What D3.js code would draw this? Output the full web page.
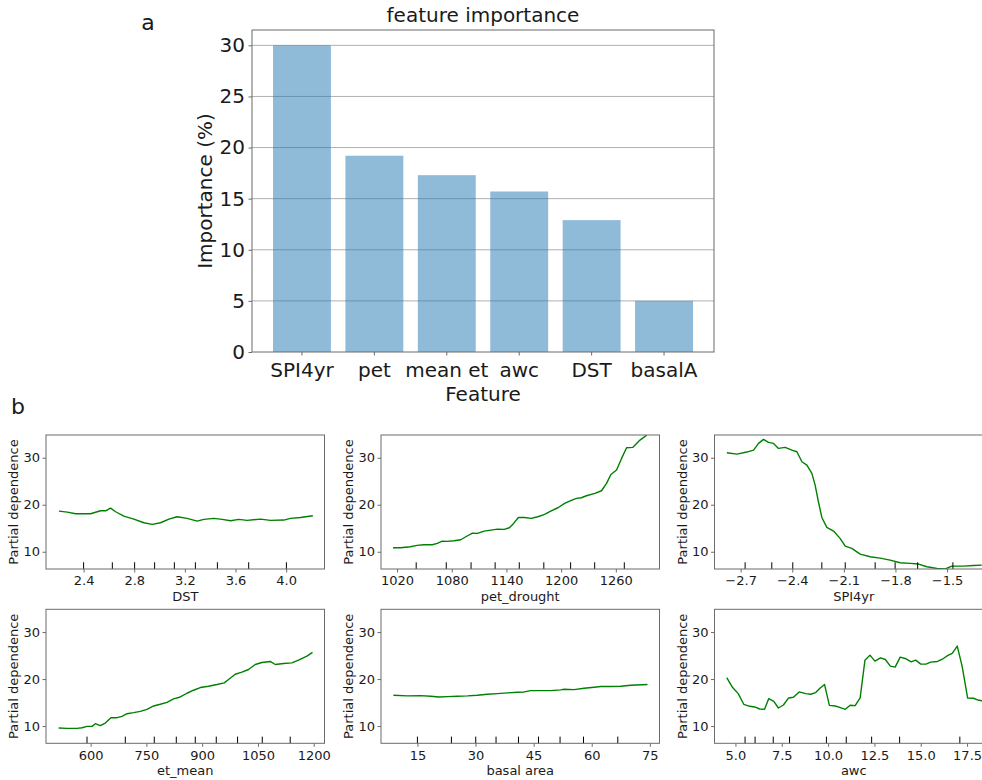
<!DOCTYPE html>
<html>
<head>
<meta charset="utf-8">
<script src="https://cdn.jsdelivr.net/npm/d3@7"></script>
<style>
  body { margin: 0; background: #fff; }
  svg { display: block; font-family: "DejaVu Sans", sans-serif; }
</style>
</head>
<body>
<svg id="fig" width="982" height="780"></svg>
<script>
// ---------- (a) feature importance ----------
const features = ["SPI4yr", "pet", "mean et", "awc", "DST", "basalA"];
const importance = [30.0, 19.2, 17.3, 15.7, 12.9, 5.0];
const importanceTicks = [0, 5, 10, 15, 20, 25, 30];

// ---------- (b) partial dependence ----------
const pdRange = [6.33, 34.84];
const pdTicks = [10, 20, 30];

const dstX = [2.205,2.271,2.337,2.403,2.455,2.534,2.574,2.613,2.653,2.718,2.797,2.876,2.942,3.008,3.074,3.139,3.218,3.297,3.350,3.429,3.495,3.561,3.626,3.692,3.797,3.876,3.982,4.034,4.113,4.211];
const dstY = [18.65,18.44,18.09,18.09,18.09,18.72,18.72,19.29,18.51,17.59,16.95,16.17,15.82,16.17,16.95,17.45,17.09,16.52,16.88,17.09,16.88,16.60,16.88,16.67,16.95,16.67,16.74,17.09,17.30,17.66];
const dstDeciles = [2.400,2.627,2.803,2.961,3.117,3.283,3.457,3.704,4.002];
const dstTicks = [2.4, 2.8, 3.2, 3.6, 4.0];
const dstLim = [2.103, 4.303];

const petX = [1015.6,1023.7,1034.7,1042.1,1049.4,1058.6,1064.1,1069.6,1075.1,1082.5,1089.9,1095.4,1102.7,1108.2,1115.6,1122.9,1130.3,1137.6,1143.2,1147.9,1153.1,1159.7,1167.0,1174.4,1181.8,1189.1,1196.5,1203.8,1211.2,1216.7,1222.2,1227.8,1237.0,1244.3,1249.8,1254.6,1260.8,1266.3,1271.8,1278.5,1286.5,1293.9];
const petY = [10.85,10.85,11.06,11.35,11.49,11.49,11.77,12.27,12.20,12.34,12.55,13.19,13.97,13.90,14.40,14.61,14.82,14.75,15.11,16.03,17.30,17.30,17.09,17.45,17.94,18.72,19.36,20.28,20.92,21.35,21.49,21.91,22.41,22.98,24.54,26.45,27.38,29.86,32.13,32.20,33.76,34.80];
const petDeciles = [1041.0,1074.0,1101.2,1127.6,1154.1,1181.0,1210.4,1236.8,1269.3];
const petTicks = [1020, 1080, 1140, 1200, 1260];
const petLim = [1002.4, 1307.9];

const spiX = [-2.780,-2.722,-2.664,-2.625,-2.596,-2.567,-2.538,-2.509,-2.480,-2.441,-2.402,-2.373,-2.344,-2.315,-2.286,-2.267,-2.248,-2.228,-2.199,-2.160,-2.122,-2.092,-2.054,-2.005,-1.947,-1.889,-1.831,-1.773,-1.715,-1.666,-1.617,-1.559,-1.511,-1.472,-1.405,-1.346,-1.298];
const spiY = [31.06,30.78,31.21,31.63,33.05,33.90,33.26,33.05,31.99,32.20,31.63,31.28,29.15,28.44,26.67,24.18,20.64,17.30,15.18,14.40,12.84,11.21,10.71,9.50,8.94,8.65,8.23,7.66,7.52,7.38,6.81,6.45,6.35,6.95,6.95,7.09,7.16];
const spiDeciles = [-2.674,-2.519,-2.397,-2.228,-2.092,-1.918,-1.802,-1.671,-1.466];
const spiTicks = [-2.7, -2.4, -2.1, -1.8, -1.5];
const spiLim = [-2.852, -1.233];

const etX = [514.0,536.6,563.4,576.9,590.3,603.8,612.6,626.1,639.5,654.8,670.9,684.4,697.8,715.6,733.6,751.6,769.4,787.4,805.4,823.1,841.1,859.1,876.9,894.9,917.2,939.8,959.4,971.0,988.9,1007.0,1024.7,1042.7,1060.7,1083.1,1096.5,1118.8,1141.4,1159.1,1181.7,1196.8];
const etY = [9.57,9.50,9.50,9.64,9.93,9.93,10.50,10.07,10.64,11.78,11.78,12.06,12.63,12.85,13.13,13.56,14.27,14.63,15.05,15.77,16.19,16.98,17.62,18.19,18.47,18.83,19.18,19.89,21.03,21.46,22.03,23.10,23.52,23.74,23.10,23.31,23.45,24.02,24.88,25.66];
const etDeciles = [590.3,693.3,771.2,830.4,881.5,937.9,995.2,1061.6,1136.8];
const etTicks = [600, 750, 900, 1050, 1200];
const etLim = [480, 1229];

const basalX = [8.80,12.42,15.85,18.43,20.58,22.75,25.33,27.91,30.50,33.08,35.66,38.24,40.83,42.54,44.26,46.84,49.43,52.01,52.87,55.45,58.03,60.61,62.34,64.92,67.51,70.09,74.40];
const basalY = [16.55,16.41,16.48,16.33,16.19,16.26,16.33,16.41,16.55,16.76,16.90,17.05,17.19,17.26,17.54,17.54,17.54,17.69,17.83,17.76,18.04,18.26,18.40,18.40,18.47,18.68,18.83];
const basalDeciles = [15.0,23.78,30.06,35.30,41.09,46.26,51.83,57.88,66.73];
const basalTicks = [15, 30, 45, 60, 75];
const basalLim = [5.6, 77.5];

const awcX = [4.53,4.85,5.15,5.45,5.77,6.04,6.31,6.57,6.80,7.07,7.32,7.59,7.87,8.13,8.44,8.80,9.06,9.33,9.56,9.81,10.07,10.39,10.66,10.93,11.19,11.46,11.73,11.99,12.26,12.53,12.83,13.09,13.36,13.62,13.89,14.16,14.48,14.73,15.00,15.28,15.54,15.90,16.20,16.47,16.70,16.97,17.23,17.53,17.85,18.13,18.45];
const awcY = [20.32,18.19,16.90,14.63,14.20,14.06,13.63,13.56,15.84,15.27,13.84,14.48,15.98,16.12,17.26,16.90,16.76,17.12,18.04,18.83,14.41,14.27,13.91,13.56,14.41,14.34,15.98,24.02,25.09,23.81,24.52,24.16,22.74,22.53,24.66,24.38,23.67,24.02,23.17,23.17,23.59,23.74,24.31,25.02,25.44,27.01,22.81,15.98,15.91,15.48,15.30];
const awcDeciles = [5.52,6.06,7.04,7.92,9.91,10.98,12.35,13.86,17.11];
const awcTicks = [5.0, 7.5, 10.0, 12.5, 15.0, 17.5];
const awcLim = [3.87, 18.9];

// ---------- drawing ----------
const svg = d3.select("#fig");
const ink = "#1a1a1a";
const spine = "#6b6b6b";

// panel letters
svg.append("text").attr("x", 148).attr("y", 30).attr("text-anchor", "middle")
  .attr("font-size", 22).attr("fill", ink).text("a");
svg.append("text").attr("x", 18).attr("y", 414).attr("text-anchor", "middle")
  .attr("font-size", 22).attr("fill", ink).text("b");

// bar chart
{
  const L = 252, R = 714, T = 30, B = 352;
  const x = d3.scaleBand().domain(features).range([L, R]).paddingInner(0.2).paddingOuter(0.29);
  const y = d3.scaleLinear().domain([0, d3.max(importance) * 1.05]).range([B, T]);
  const g = svg.append("g");

  g.selectAll("line.grid").data(importanceTicks.filter(d => d > 0)).join("line")
    .attr("class", "grid")
    .attr("x1", L).attr("x2", R)
    .attr("y1", d => y(d)).attr("y2", d => y(d))
    .attr("stroke", "#b0b0b0").attr("stroke-width", 1);

  g.selectAll("rect.bar").data(d3.zip(features, importance)).join("rect")
    .attr("class", "bar")
    .attr("x", d => x(d[0])).attr("width", x.bandwidth())
    .attr("y", d => y(d[1])).attr("height", d => B - y(d[1]))
    .attr("fill", "#1f77b4").attr("fill-opacity", 0.5);

  g.append("rect").attr("x", L).attr("y", T).attr("width", R - L).attr("height", B - T)
    .attr("fill", "none").attr("stroke", spine).attr("stroke-width", 1);

  const ya = g.append("g").attr("transform", `translate(${L},0)`)
    .call(d3.axisLeft(y).tickValues(importanceTicks).tickSize(3.5).tickPadding(3.5));
  const xa = g.append("g").attr("transform", `translate(0,${B})`)
    .call(d3.axisBottom(x).tickSize(3.5).tickPadding(7));
  [ya, xa].forEach(a => {
    a.select(".domain").remove();
    a.selectAll("line").attr("stroke", spine);
    a.selectAll("text").attr("font-size", 20).attr("fill", ink).attr("font-family", "DejaVu Sans, sans-serif");
  });

  g.append("text").attr("x", (L + R) / 2).attr("y", 22).attr("text-anchor", "middle")
    .attr("font-size", 20).attr("fill", ink).text("feature importance");
  g.append("text").attr("x", (L + R) / 2).attr("y", 401).attr("text-anchor", "middle")
    .attr("font-size", 20).attr("fill", ink).text("Feature");
  g.append("text").attr("transform", `translate(212,${(T + B) / 2}) rotate(-90)`)
    .attr("text-anchor", "middle").attr("font-size", 20).attr("fill", ink).text("Importance (%)");
}

// partial dependence grid
const panels = [
  { xs: dstX, ys: dstY, dec: dstDeciles, ticks: dstTicks, lim: dstLim, fmt: ".1f", label: "DST" },
  { xs: petX, ys: petY, dec: petDeciles, ticks: petTicks, lim: petLim, fmt: "d", label: "pet_drought" },
  { xs: spiX, ys: spiY, dec: spiDeciles, ticks: spiTicks, lim: spiLim, fmt: ".1f", label: "SPI4yr" },
  { xs: etX, ys: etY, dec: etDeciles, ticks: etTicks, lim: etLim, fmt: "d", label: "et_mean" },
  { xs: basalX, ys: basalY, dec: basalDeciles, ticks: basalTicks, lim: basalLim, fmt: "d", label: "basal area" },
  { xs: awcX, ys: awcY, dec: awcDeciles, ticks: awcTicks, lim: awcLim, fmt: ".1f", label: "awc" }
];

const colLeft = [46, 381, 714.5];
const rowTop = [435, 609.3];
const PW = 278.5, PH = 134;

panels.forEach((p, i) => {
  const L = colLeft[i % 3], T = rowTop[Math.floor(i / 3)];
  const B = T + PH, R = L + PW;
  const x = d3.scaleLinear().domain(p.lim).range([L, R]);
  const y = d3.scaleLinear().domain(pdRange).range([B, T]);
  const g = svg.append("g");

  const clipId = "clip" + i;
  g.append("clipPath").attr("id", clipId).append("rect")
    .attr("x", L).attr("y", T).attr("width", PW).attr("height", PH);

  const pts = d3.zip(p.xs, p.ys);
  g.append("path").datum(pts)
    .attr("clip-path", `url(#${clipId})`)
    .attr("d", d3.line().x(d => x(d[0])).y(d => y(d[1])))
    .attr("fill", "none").attr("stroke", "#008000").attr("stroke-width", 1.4)
    .attr("stroke-linejoin", "round");

  // decile markers along the bottom
  g.selectAll("line.dec").data(p.dec).join("line")
    .attr("class", "dec")
    .attr("x1", d => x(d)).attr("x2", d => x(d))
    .attr("y1", B).attr("y2", B - 0.05 * PH)
    .attr("stroke", "#000").attr("stroke-width", 1);

  g.append("rect").attr("x", L).attr("y", T).attr("width", PW).attr("height", PH)
    .attr("fill", "none").attr("stroke", spine).attr("stroke-width", 1);

  const xa = g.append("g").attr("transform", `translate(0,${B})`)
    .call(d3.axisBottom(x).tickValues(p.ticks).tickFormat(d3.format(p.fmt)).tickSize(3.5).tickPadding(3.5));
  const ya = g.append("g").attr("transform", `translate(${L},0)`)
    .call(d3.axisLeft(y).tickValues(pdTicks).tickFormat(d3.format("d")).tickSize(3.5).tickPadding(2.5));
  [xa, ya].forEach(a => {
    a.select(".domain").remove();
    a.selectAll("line").attr("stroke", spine);
    a.selectAll("text").attr("font-size", 13).attr("fill", ink).attr("font-family", "DejaVu Sans, sans-serif");
  });

  g.append("text").attr("x", (L + R) / 2).attr("y", B + 32).attr("text-anchor", "middle")
    .attr("font-size", 13).attr("fill", ink).text(p.label);
  g.append("text").attr("transform", `translate(${L - 28},${T + PH / 2}) rotate(-90)`)
    .attr("text-anchor", "middle").attr("font-size", 13).attr("fill", ink).text("Partial dependence");
});
</script>
</body>
</html>
